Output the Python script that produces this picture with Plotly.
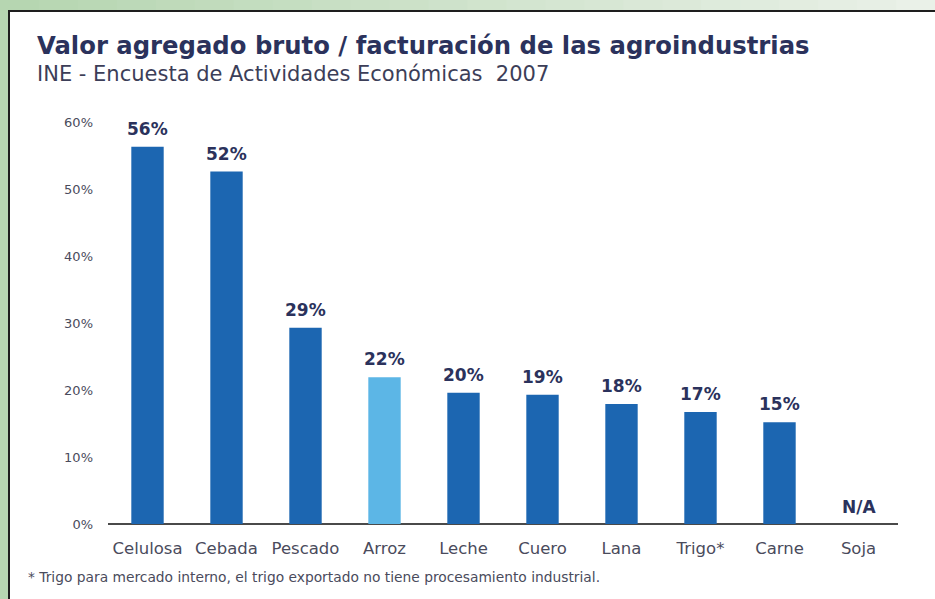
import plotly.graph_objects as go

categories = ["Celulosa", "Cebada", "Pescado", "Arroz", "Leche", "Cuero", "Lana", "Trigo*", "Carne", "Soja"]
values = [56.3, 52.6, 29.3, 21.9, 19.6, 19.3, 17.9, 16.7, 15.2, None]
value_labels = ["56%", "52%", "29%", "22%", "20%", "19%", "18%", "17%", "15%", "N/A"]
tick_vals = [0, 10, 20, 30, 40, 50, 60]
tick_text = ["0%", "10%", "20%", "30%", "40%", "50%", "60%"]

title = "Valor agregado bruto / facturación de las agroindustrias"
subtitle = "INE - Encuesta de Actividades Económicas  2007"
footnote = "* Trigo para mercado interno, el trigo exportado no tiene procesamiento industrial."

W, H = 935, 599
ML, MR, MT, MB = 108, 37, 122, 75
PW = W - ML - MR
PH = H - MT - MB
FONT = "DejaVu Sans, Verdana, sans-serif"


def px_x(p):
    return (p - ML) / PW


def px_y(p):
    return (H - MB - p) / PH


DARK = "#1c66b1"
LIGHT = "#5cb6e6"
NAVY = "#2b325c"
GREY = "#4a4b5c"
colors = [LIGHT if c == "Arroz" else DARK for c in categories]

fig = go.Figure()
fig.add_trace(go.Bar(
    x=categories, y=[v if v is not None else 0 for v in values],
    marker=dict(color=colors, line=dict(width=0)),
    width=0.41, hoverinfo="x+y",
))

annotations = []
for c, v, t in zip(categories, values, value_labels):
    annotations.append(dict(
        x=c, y=v if v is not None else 0, xref="x", yref="y", text=f"<b>{t}</b>",
        showarrow=False, yanchor="bottom", yshift=6 if v is not None else 5,
        font=dict(family=FONT, size=17, color=NAVY),
    ))

annotations.append(dict(x=px_x(35), y=px_y(46), xref="paper", yref="paper", xanchor="left", yanchor="middle",
                        text=f"<b>{title}</b>", showarrow=False,
                        font=dict(family=FONT, size=24.3, color=NAVY)))
annotations.append(dict(x=px_x(35), y=px_y(74), xref="paper", yref="paper", xanchor="left", yanchor="middle",
                        text=subtitle, showarrow=False,
                        font=dict(family=FONT, size=21, color="#3c3e58")))
annotations.append(dict(x=px_x(26), y=px_y(577), xref="paper", yref="paper", xanchor="left", yanchor="middle",
                        text=footnote, showarrow=False,
                        font=dict(family=FONT, size=13.8, color=GREY)))

shapes = []
# top band gradient of the green frame
n = 24
for i in range(n):
    f = i / (n - 1)
    r = int(0xb6 + (0xea - 0xb6) * f)
    g = int(0xd6 + (0xf1 - 0xd6) * f)
    b = int(0xb1 + (0xe8 - 0xb1) * f)
    shapes.append(dict(type="rect", xref="paper", yref="paper",
                       x0=px_x(i * W / n), x1=px_x((i + 1) * W / n + 1), y0=px_y(11), y1=px_y(-2),
                       fillcolor=f"rgb({r},{g},{b})", line=dict(width=0), layer="below"))
# white panel with dark border
shapes.append(dict(type="rect", xref="paper", yref="paper",
                   x0=px_x(9), x1=px_x(W + 10), y0=px_y(H + 10), y1=px_y(11),
                   fillcolor="white", line=dict(color="#1e1e1e", width=2), layer="below"))

fig.update_layout(
    width=W, height=H,
    margin=dict(l=ML, r=MR, t=MT, b=MB),
    paper_bgcolor="#b7d6b2",
    plot_bgcolor="rgba(0,0,0,0)",
    showlegend=False,
    annotations=annotations,
    shapes=shapes,
    xaxis=dict(showgrid=False, zeroline=False, showline=False, ticks="",
               tickfont=dict(family=FONT, size=16.5, color=GREY),
               ticklabelstandoff=12),
    yaxis=dict(range=[0, 60], tickvals=tick_vals, ticktext=tick_text, showgrid=False,
               zeroline=True, zerolinecolor="#4a4a4a", zerolinewidth=2, showline=False, ticks="",
               tickfont=dict(family=FONT, size=13, color=GREY),
               ticklabelstandoff=14),
)
fig.update_traces(cliponaxis=False)

fig.write_html("out.html", config={"displayModeBar": False},
               post_script="document.body.style.margin='0px';document.body.style.overflow='hidden';")
